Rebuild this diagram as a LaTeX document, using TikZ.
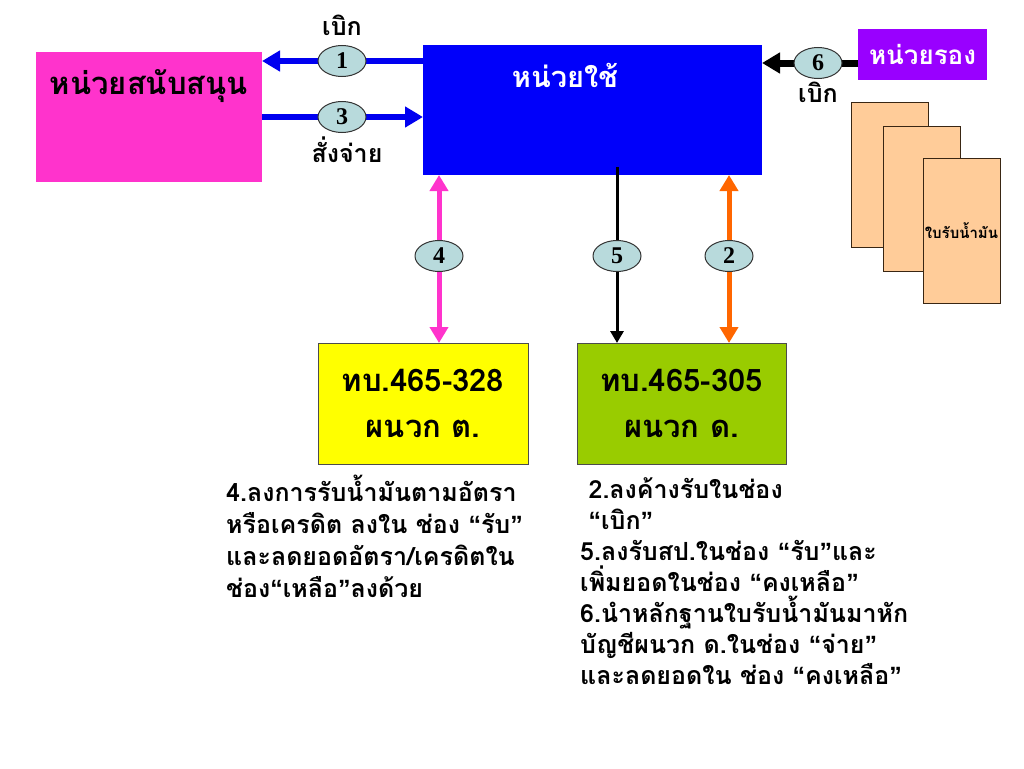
\documentclass[tikz,border=0pt]{standalone}
\usepackage{fontspec}
\setmainfont{Liberation Sans}
\newfontfamily\thaifont[Script=Thai]{Loma}
\newfontfamily\numfont{Liberation Serif}
\newfontfamily\quotefont{Liberation Sans}
\newcommand{\openq}{{\quotefont “}}
\newcommand{\closeq}{{\quotefont ”}}
\usetikzlibrary{arrows.meta,shapes.geometric,positioning}

\definecolor{supportpink}{RGB}{255,51,204}
\definecolor{userblue}{RGB}{0,0,250}
\definecolor{subpurple}{RGB}{153,0,255}
\definecolor{docpeach}{RGB}{255,204,153}
\definecolor{formyellow}{RGB}{255,255,0}
\definecolor{formgreen}{RGB}{153,204,0}
\definecolor{flowblue}{RGB}{0,0,240}
\definecolor{floworange}{RGB}{255,102,0}
\definecolor{stepfill}{RGB}{184,218,220}

\begin{document}
\begin{tikzpicture}[x=1pt,y=-1pt,
			unit/.style={anchor=north west,inner sep=0pt,outer sep=0pt},
			form/.style={unit,draw=black!70,line width=0.8pt,align=center,
				font=\thaifont\bfseries\fontsize{31}{46}\selectfont},
			doc/.style={unit,fill=docpeach,draw=black!70!brown,line width=0.8pt,
				minimum width=77pt,minimum height=145pt},
			stepno/.style={ellipse,draw=black!80,line width=1pt,fill=stepfill,
				minimum width=48pt,minimum height=31pt,inner sep=0pt,
				font=\numfont\bfseries\fontsize{24}{24}\selectfont},
			word/.style={font=\thaifont\bfseries\fontsize{25}{25}\selectfont},
			note/.style={anchor=north west,align=left,inner sep=0pt,
				font=\thaifont\bfseries\fontsize{25}{31}\selectfont},
			thick flow/.style={line width=6pt,-{Triangle[length=18pt,width=20pt]}},
			both flow/.style={line width=5pt,{Triangle[length=16pt,width=18pt]}-{Triangle[length=16pt,width=18pt]}}
			]
			\useasboundingbox (0,0) rectangle (1024,768);
			
			% boxes
			\node[unit,fill=supportpink,minimum width=226pt,minimum height=130pt,
				label={[anchor=north,yshift=-14pt,font=\thaifont\bfseries\fontsize{31}{31}\selectfont]north:หน่วยสนับสนุน}]
				(support) at (36,52) {};
			\node[unit,fill=userblue,minimum width=339pt,minimum height=130pt] (user) at (423,45) {};
			\node[white,font=\thaifont\bfseries\fontsize{29}{29}\selectfont] (usertxt) at (565,75) {หน่วยใช้};
			\node[unit,fill=subpurple,minimum width=129pt,minimum height=51pt,text=white,
				font=\thaifont\bfseries\fontsize{26}{26}\selectfont] (sub) at (858,29) {\hfill หน่วยรอง\hfill\null};
			
			\node[doc] (doc1) at (851,102) {};
			\node[doc] (doc2) at (883,126) {};
			\node[doc,font=\thaifont\bfseries\fontsize{15}{15}\selectfont] (doc3) at (923,158) {ใบรับน้ำมัน};
			
			\node[form,fill=formyellow,minimum width=210pt,minimum height=121pt] (formT) at (318,343) {ทบ.465-328\\ผนวก ต.};
			\node[form,fill=formgreen,minimum width=209pt,minimum height=121pt] (formD) at (577,343) {ทบ.465-305\\ผนวก ด.};
			
			% flows
			\coordinate (p1) at (342,61);
			\coordinate (p3) at (342,117);
			\coordinate (p6) at (818,63);
			\coordinate (p4) at (439,256);
			\coordinate (p5) at (617,256);
			\coordinate (p2) at (729,256);
			\draw[flowblue,thick flow] (user.west |- p1) -- (support.east |- p1);
			\draw[flowblue,thick flow] (support.east |- p3) -- (user.west |- p3);
			\draw[black,line width=7pt,-{Triangle[length=18pt,width=20pt]}] (sub.west |- p6) -- (user.east |- p6);
			\draw[supportpink,both flow] (user.south -| p4) -- (formT.north -| p4);
			\draw[floworange,both flow] (user.south -| p2) -- (formD.north -| p2);
			\draw[black,line width=3pt,-{Triangle[length=12pt,width=13pt]}] ([yshift=8pt]user.south -| p5) -- (formD.north -| p5);
			
			\foreach \n in {1,...,6}
				\node[stepno] (e\n) at (p\n) {\n};
			
			\node[word] (wd1) at (342,25) {เบิก};
			\node[word] (wd3) at (347,150) {สั่งจ่าย};
			\node[word] (wd6) at (818,92) {เบิก};
			
			% notes
			\node[note,font=\thaifont\bfseries\fontsize{25}{32}\selectfont] (noteT) at (226,475) {4.ลงการรับน้ำมันตามอัตรา\\หรือเครดิต ลงใน ช่อง \openq รับ\closeq\\และลดยอดอัตรา/เครดิตใน\\ช่อง\openq เหลือ\closeq ลงด้วย};
			\node[note] (noteD) at (580,477) {\ 2.ลงค้างรับในช่อง\\\ \openq เบิก\closeq\\5.ลงรับสป.ในช่อง \openq รับ\closeq และ\\เพิ่มยอดในช่อง \openq คงเหลือ\closeq\\6.นำหลักฐานใบรับน้ำมันมาหัก\\บัญชีผนวก ด.ในช่อง \openq จ่าย\closeq\\และลดยอดใน ช่อง \openq คงเหลือ\closeq};
		\end{tikzpicture}
\end{document}
